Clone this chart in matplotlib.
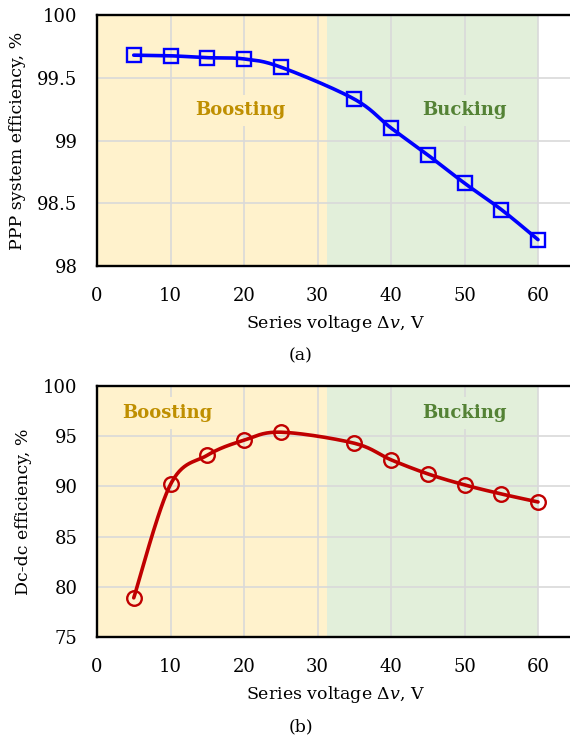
import numpy as np
import matplotlib
matplotlib.use("Agg")
import matplotlib.pyplot as plt

# ---- data ----
voltage = [5, 10, 15, 20, 25, 35, 40, 45, 50, 55, 60]
ppp_eff = [99.68, 99.675, 99.66, 99.65, 99.585, 99.33, 99.10, 98.885, 98.66, 98.45, 98.21]
dcdc_eff = [78.9, 90.2, 93.1, 94.6, 95.4, 94.3, 92.65, 91.25, 90.15, 89.25, 88.45]
boost_range = [0, 31.3]
buck_range = [31.3, 60]
xticks = [0, 10, 20, 30, 40, 50, 60]
yticks_a = [98, 98.5, 99, 99.5, 100]
yticks_b = [75, 80, 85, 90, 95, 100]
ytick_labels_a = ["98", "98.5", "99", "99.5", "100"]

FONT = "DejaVu Serif"
plt.rcParams["font.family"] = FONT
plt.rcParams["mathtext.fontset"] = "custom"
plt.rcParams["mathtext.it"] = "DejaVu Serif:italic"
plt.rcParams["mathtext.rm"] = "DejaVu Serif"


def smooth(x, y, n=30):
    """Excel-like smoothed line (Catmull-Rom through the points)."""
    x = np.asarray(x, float)
    y = np.asarray(y, float)
    P = np.column_stack([x, y])
    P = np.vstack([P[0], P, P[-1]])
    out = []
    t = np.linspace(0, 1, n)[:, None]
    for i in range(1, len(P) - 2):
        p0, p1, p2, p3 = P[i - 1], P[i], P[i + 1], P[i + 2]
        c1 = p1 + (p2 - p0) / 6
        c2 = p2 - (p3 - p1) / 6
        seg = ((1 - t) ** 3) * p1 + 3 * ((1 - t) ** 2) * t * c1 + 3 * (1 - t) * t ** 2 * c2 + t ** 3 * p2
        out.append(seg if i == 1 else seg[1:])
    s = np.vstack(out)
    return s[:, 0], s[:, 1]


W, H = 570, 741
fig = plt.figure(figsize=(W / 100, H / 100), dpi=100)

BOOST_BG = "#FFF2CC"
BUCK_BG = "#E2EFDA"
BOOST_TXT = "#BF8F00"
BUCK_TXT = "#548235"
GRID = "#D9D9D9"

XMAX = 65.0
left = 97 / W
px_per_unit = 7.35
width = XMAX * px_per_unit / W


def make_axes(top_px, bottom_px):
    ax = fig.add_axes([left, (H - bottom_px) / H, width, (bottom_px - top_px) / H])
    ax.set_xlim(0, XMAX)
    ax.axvspan(*boost_range, color=BOOST_BG, lw=0, zorder=0)
    ax.axvspan(*buck_range, color=BUCK_BG, lw=0, zorder=0)
    ax.set_axisbelow(False)
    ax.grid(True, color=GRID, lw=1.2)
    ax.set_xticks(xticks)
    ax.tick_params(length=0, labelsize=13, pad=14)
    ax.tick_params(axis="x", pad=15)
    for s in ["top", "bottom", "left"]:
        ax.spines[s].set_linewidth(1.7)
        ax.spines[s].set_color("black")
        ax.spines[s].set_zorder(5)
    ax.spines["right"].set_visible(False)
    ax.set_xlabel(r"Series voltage $\mathit{\Delta v}$, V", fontsize=12.5, labelpad=6)
    return ax


def label(ax, x, y, s, color, bg):
    ax.text(x, y, s, color=color, fontsize=13, fontweight="bold",
            ha="center", va="center", zorder=2.8,
            bbox=dict(facecolor=bg, edgecolor="none", pad=5))


# ---- (a) ----
ax1 = make_axes(15, 266)
ax1.set_ylim(98, 100)
ax1.set_yticks(yticks_a)
ax1.set_yticklabels(ytick_labels_a)
sx, sy = smooth(voltage, ppp_eff)
ax1.plot(sx, sy, color="#0000FF", lw=2.6, zorder=3, solid_capstyle="round")
ax1.plot(voltage, ppp_eff, ls="none", marker="s", ms=9.8, mfc="none",
         mec="#0000FF", mew=1.7, zorder=4)
label(ax1, 19.5, 99.24, "Boosting", BOOST_TXT, BOOST_BG)
label(ax1, 50, 99.24, "Bucking", BUCK_TXT, BUCK_BG)
ax1.set_ylabel("PPP system efficiency, %", fontsize=12.5, labelpad=8)

# ---- (b) ----
ax2 = make_axes(386, 637)
ax2.set_ylim(75, 100)
ax2.set_yticks(yticks_b)
sx, sy = smooth(voltage, dcdc_eff)
ax2.plot(sx, sy, color="#C00000", lw=2.6, zorder=3, solid_capstyle="round")
ax2.plot(voltage, dcdc_eff, ls="none", marker="o", ms=10.5, mfc="none",
         mec="#C00000", mew=1.7, zorder=4)
label(ax2, 9.5, 97.3, "Boosting", BOOST_TXT, BOOST_BG)
label(ax2, 50, 97.3, "Bucking", BUCK_TXT, BUCK_BG)
ax2.set_ylabel("Dc-dc efficiency, %", fontsize=12.5, labelpad=8)

fig.text(301 / W, 1 - 356 / H, "(a)", ha="center", va="center", fontsize=12.5)
fig.text(301 / W, 1 - 727 / H, "(b)", ha="center", va="center", fontsize=12.5)

fig.savefig("out.png", dpi=100)
